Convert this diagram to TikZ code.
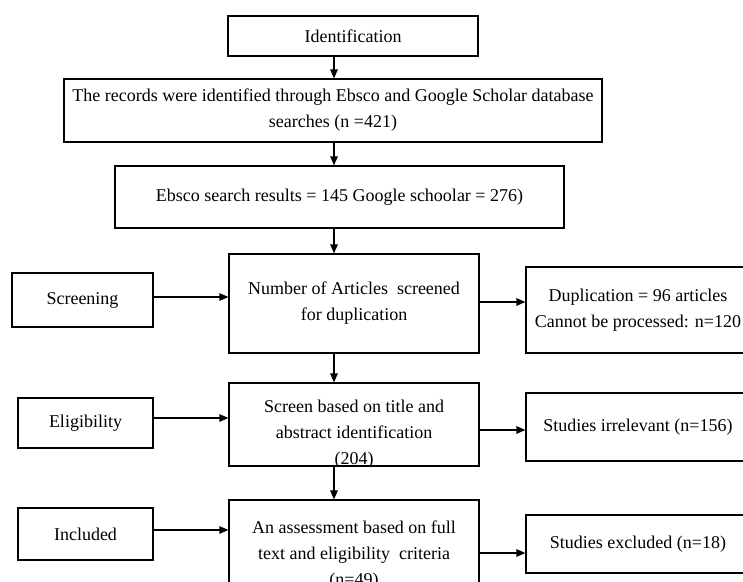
\documentclass[tikz,border=0pt]{standalone}
\usepackage{fontspec}
\setmainfont{Liberation Serif}
\usetikzlibrary{arrows.meta}
\begin{document}
\begin{tikzpicture}[x=1pt,y=-1pt,
  box/.style={draw, line width=1.2pt, rectangle, inner sep=0pt, align=center,
    font=\fontsize{18}{26}\selectfont},
  txt/.style={inner sep=0pt, align=center, font=\fontsize{18}{26}\selectfont},
  arr/.style={line width=1.2pt, -{Triangle[length=9pt,width=7.5pt]}}]
\useasboundingbox (0,0) rectangle (743,581);
\fill[white] (0,0) rectangle (743,581);
\coordinate (col) at (334,0);
% main column
\node[box, minimum width=250pt, minimum height=40pt] (ident) at (353,36) {Identification};
\node[box, minimum width=538pt, minimum height=63pt] (records) at (333,110.5)
  {The records were identified through Ebsco and Google Scholar database\\searches (n =421)};
\node[box, minimum width=449pt, minimum height=62pt] (ebsco) at (339.5,197)
  {Ebsco search results = 145 Google schoolar = 276)};
\node[box, minimum width=250pt, minimum height=99pt] (screened) at (354,303.5)
  {Number of Articles\ \ screened\\for duplication};
\node[box, minimum width=250pt, minimum height=83pt] (title) at (354,424.5) {};
\begin{scope}
  \clip (title.north west) rectangle (title.south east);
  \node[txt] (titletxt) at (354,434) {Screen based on title and\\abstract identification\\(204)};
\end{scope}
\node[box, minimum width=250pt, minimum height=110pt] (assess) at (354,555)
  {An assessment based on full\\text and eligibility\ \ criteria\\(n=49)};
% left column
\node[box, minimum width=141pt, minimum height=54pt] (screening) at (82.5,300) {Screening};
\node[box, minimum width=135pt, minimum height=50pt] (elig) at (85.5,423) {Eligibility};
\node[box, minimum width=135pt, minimum height=52pt] (incl) at (85.5,534) {Included};
% right column
\node[box, minimum width=224pt, minimum height=86pt] (dup) at (638,310)
  {Duplication = 96 articles\\Cannot be processed: n=120};
\node[box, minimum width=224pt, minimum height=68pt] (irrel) at (638,427)
  {Studies irrelevant (n=156)};
\node[box, minimum width=224pt, minimum height=58pt] (excl) at (638,544)
  {Studies excluded (n=18)};
% vertical arrows
\draw[arr] (ident.south -| col) -- (records.north -| col);
\draw[arr] (records.south -| col) -- (ebsco.north -| col);
\draw[arr] (ebsco.south -| col) -- (screened.north -| col);
\draw[arr] (screened.south -| col) -- (title.north -| col);
\draw[arr] (title.south -| col) -- (assess.north -| col);
% horizontal arrows
\coordinate (y1) at (0,297);
\coordinate (y2) at (0,302);
\coordinate (y3) at (0,418);
\coordinate (y4) at (0,430);
\coordinate (y5) at (0,530);
\coordinate (y6) at (0,553);
\draw[arr] (screening.east |- y1) -- (screened.west |- y1);
\draw[arr] (screened.east |- y2) -- (dup.west |- y2);
\draw[arr] (elig.east |- y3) -- (title.west |- y3);
\draw[arr] (title.east |- y4) -- (irrel.west |- y4);
\draw[arr] (incl.east |- y5) -- (assess.west |- y5);
\draw[arr] (assess.east |- y6) -- (excl.west |- y6);
\end{tikzpicture}
\end{document}
